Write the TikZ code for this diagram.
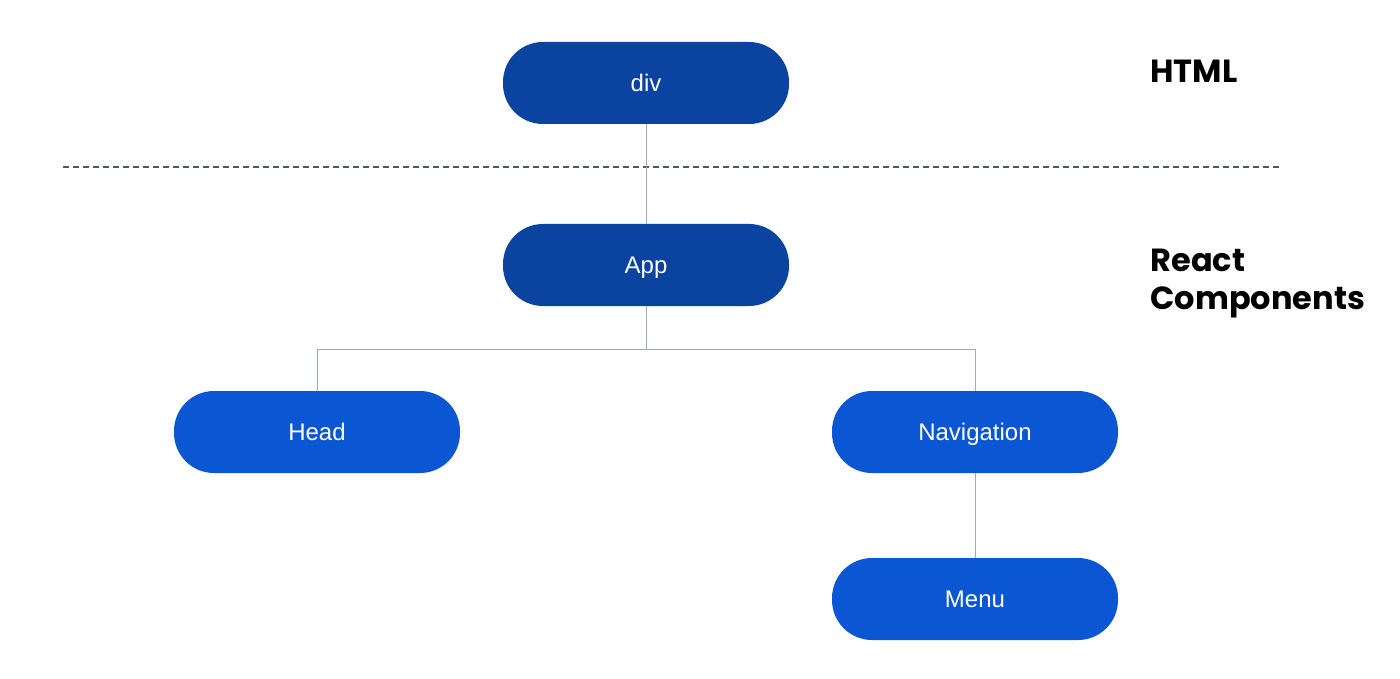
\documentclass[tikz,border=0pt]{standalone}
\usepackage{fontspec}
\setmainfont{Liberation Sans}
\newfontfamily\headfont{Poppins Bold}
\usetikzlibrary{positioning}
\definecolor{htmlblue}{HTML}{0A43A0}
\definecolor{compblue}{HTML}{0B57D3}
\definecolor{wire}{HTML}{9AA8C0}
\definecolor{rule}{HTML}{4A5A72}
\tikzset{
    pill/.style={rounded corners=40pt, minimum width=286pt, minimum height=82pt,
        text=white, font=\fontsize{24}{28}\selectfont, inner sep=0pt,
        text height=17pt, text depth=0pt},
    htmlpill/.style={pill, fill=htmlblue},
    comppill/.style={pill, fill=compblue},
    wireline/.style={draw=wire, line width=1pt},
    layer/.style={font=\headfont\fontsize{32}{38}\selectfont, align=left, anchor=west}
}
\begin{document}
\begin{tikzpicture}[x=1pt, y=-1pt]
        \useasboundingbox (0,0) rectangle (1400,679);

        \node[htmlpill] (div) at (646,83) {div};
        \node[htmlpill] (app) at (646,265) {App};
        \node[comppill] (head) at (317,432) {Head};
        \node[comppill] (nav) at (975,432) {Navigation};
        \node[comppill] (menu) at (975,599) {Menu};

        \draw[rule, line width=1.2pt, dash pattern=on 6pt off 4pt] (63,167) -- (1280,167);

        \draw[wireline] (div) -- (app);
        \draw[wireline] (app.south) -- ++(0,43) -| (head.north);
        \draw[wireline] (app.south) -- ++(0,43) -| (nav.north);
        \draw[wireline] (nav) -- (menu);

        \node[layer] (html) at (1147,71) {HTML};
        \node[layer] (react) at (1147,284) {React\\Components};

    \end{tikzpicture}
\end{document}
